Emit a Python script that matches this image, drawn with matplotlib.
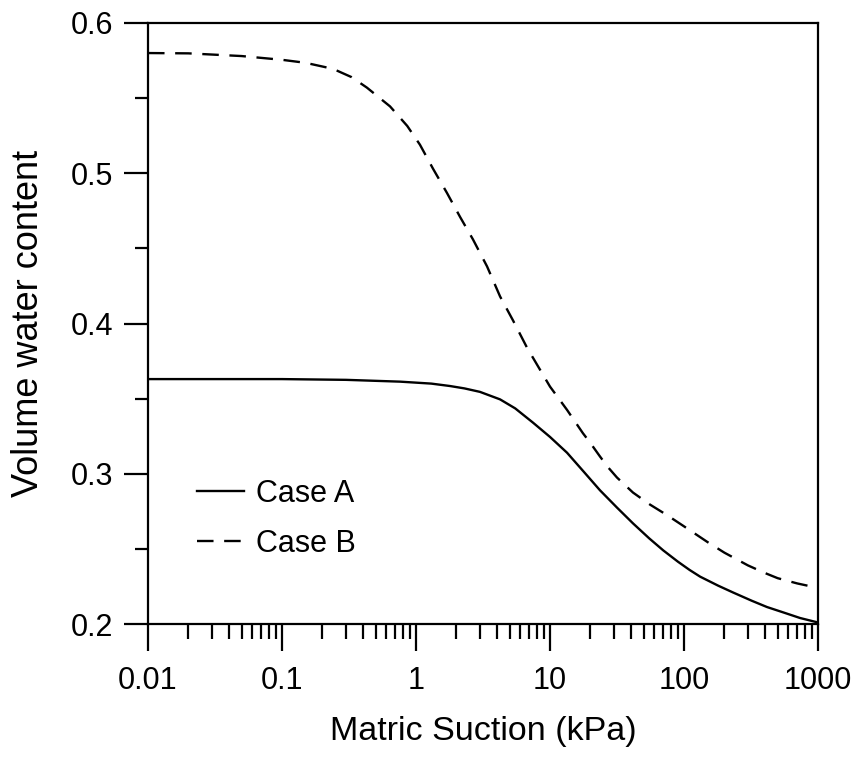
import numpy as np
import matplotlib
matplotlib.use("Agg")
import matplotlib.pyplot as plt
from matplotlib.ticker import FixedLocator, LogLocator, FixedFormatter, MultipleLocator

plt.rcParams['font.family'] = ['Liberation Sans', 'DejaVu Sans']

# Soil water characteristic curves
suction_a = [0.01, 0.1, 0.3, 0.76, 1.3, 1.79, 2.3, 3, 4.24, 5.5, 7.47, 10,
             13.4, 18, 23.6, 31.6, 41.6, 55, 70, 90, 110, 132, 180, 232, 320,
             416, 560, 734, 1000]
case_a = [0.363, 0.363, 0.3625, 0.3613, 0.3600, 0.3584, 0.3568, 0.3545,
          0.3495, 0.3435, 0.334, 0.3245, 0.314, 0.301, 0.289, 0.2775, 0.267,
          0.257, 0.249, 0.2415, 0.236, 0.2315, 0.2255, 0.221, 0.2155, 0.2113,
          0.2075, 0.204, 0.201]

suction_b = [0.01, 0.02, 0.05, 0.1, 0.15, 0.24, 0.33, 0.43, 0.64, 0.86, 1.07,
             1.34, 1.7, 2.13, 2.66, 3.39, 4.24, 5.3, 6.73, 10, 13.4, 17.6,
             20, 23.6, 27, 31.6, 41.6, 55.7, 74.6, 100, 150, 200, 300, 400,
             500, 700, 1000]
case_b = [0.580, 0.5798, 0.578, 0.5755, 0.5735, 0.5695, 0.564, 0.557, 0.5445,
          0.5315, 0.519, 0.503, 0.487, 0.471, 0.456, 0.438, 0.418, 0.402,
          0.384, 0.358, 0.3425, 0.327, 0.3205, 0.3115, 0.3045, 0.2975, 0.2875,
          0.2795, 0.2725, 0.265, 0.2545, 0.2475, 0.239, 0.234, 0.2305, 0.227,
          0.224]

x_ticks = [0.01, 0.1, 1, 10, 100, 1000]
x_labels = ["0.01", "0.1", "1", "10", "100", "1000"]
y_ticks = [0.2, 0.3, 0.4, 0.5, 0.6]
y_labels = ["0.2", "0.3", "0.4", "0.5", "0.6"]

fig = plt.figure(figsize=(8.58, 7.63), dpi=100)
ax = fig.add_axes([148 / 858, 1 - 624 / 763, 670 / 858, 601 / 763])

ax.plot(suction_a, case_a, color="black", lw=1.7, label="Case A")
ax.plot(suction_b, case_b, color="black", lw=1.7, dashes=(7, 4.5), label="Case B")

ax.set_xscale("log")
ax.set_xlim(0.01, 1000)
ax.set_ylim(0.2, 0.6)

ax.xaxis.set_major_locator(FixedLocator(x_ticks))
ax.xaxis.set_major_formatter(FixedFormatter(x_labels))
ax.xaxis.set_minor_locator(LogLocator(base=10, subs=np.arange(2, 10)))
ax.yaxis.set_major_locator(FixedLocator(y_ticks))
ax.yaxis.set_major_formatter(FixedFormatter(y_labels))
ax.yaxis.set_minor_locator(MultipleLocator(0.05))

ax.tick_params(axis="x", which="major", direction="out", length=19.5, width=1.6,
               pad=11, labelsize=22)
ax.tick_params(axis="x", which="minor", direction="out", length=11, width=1.6)
ax.tick_params(axis="y", which="major", direction="out", length=17, width=1.6,
               pad=8, labelsize=22)
ax.tick_params(axis="y", which="minor", direction="out", length=9.5, width=1.6)

for sp in ax.spines.values():
    sp.set_linewidth(1.6)

ax.set_xlabel("Matric Suction (kPa)", fontsize=24.5, labelpad=14)
ax.set_ylabel("Volume water content", fontsize=26, labelpad=18)

ax.legend(loc="center left", bbox_to_anchor=(0.073, 0.175), frameon=False,
          fontsize=22, handlelength=1.55, handletextpad=0.4, labelspacing=0.65,
          borderpad=0, borderaxespad=0)

fig.savefig("out.png", dpi=100)
